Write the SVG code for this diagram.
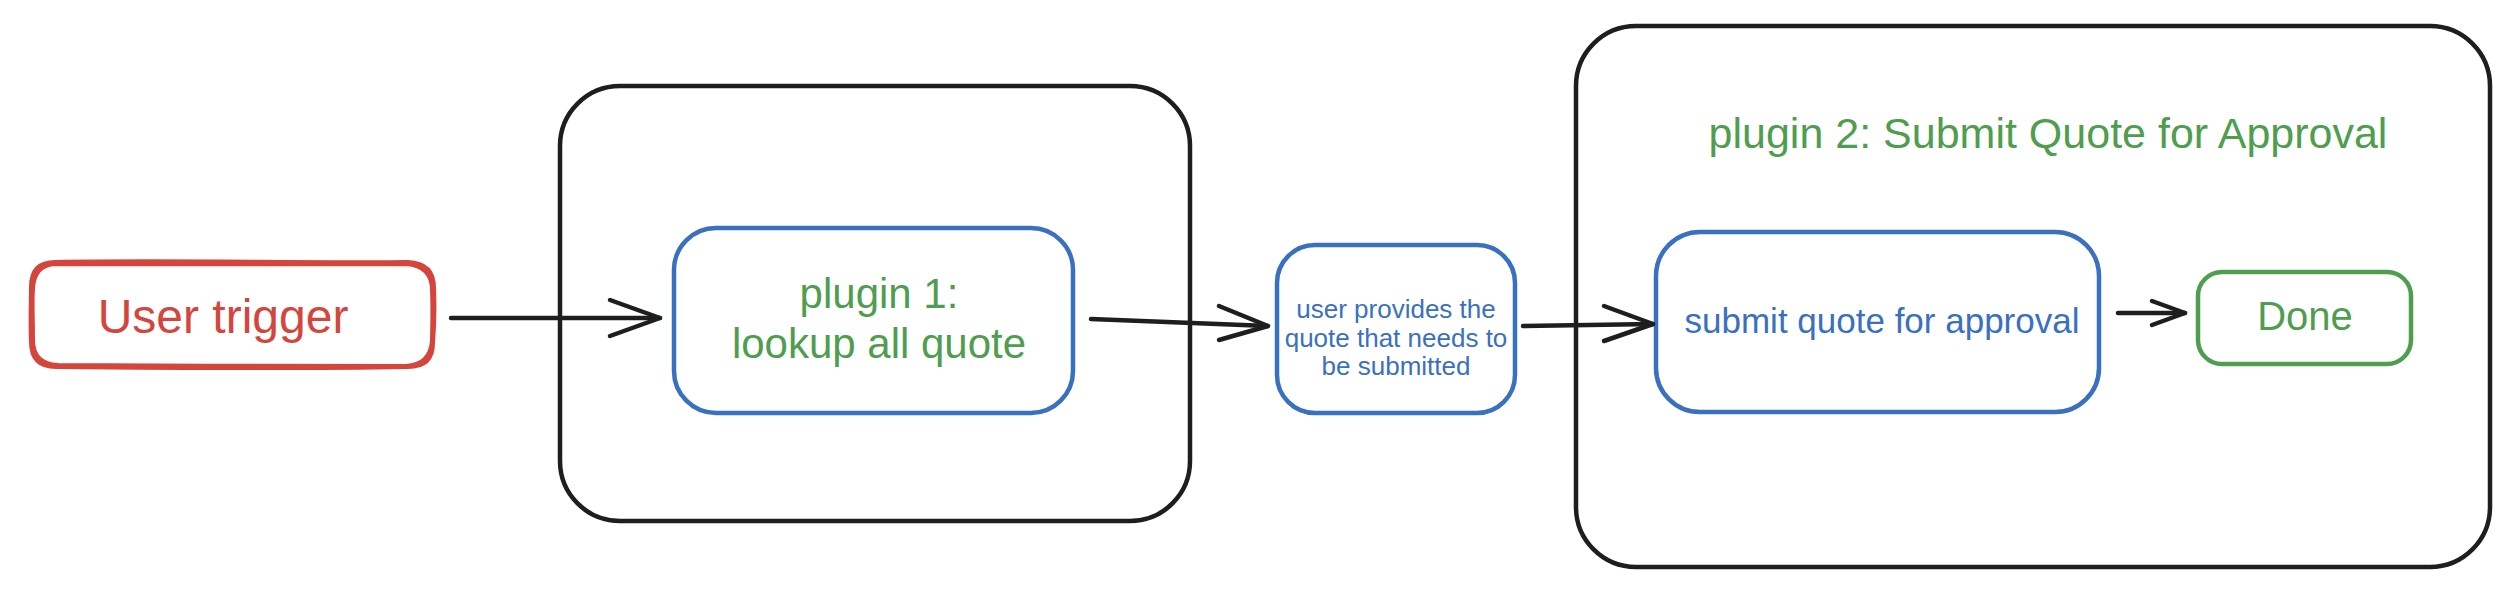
<svg xmlns="http://www.w3.org/2000/svg" width="2504" height="606" viewBox="0 0 2504 606">
  <style>
    .frame { fill: none; stroke: #1e1e1e; stroke-width: 4.5; }
    .blue { fill: none; stroke: #3a70c0; stroke-width: 4.5; }
    .green { fill: none; stroke: #4f9e4f; stroke-width: 4.5; }
    .red { fill: none; stroke: #d4463d; stroke-width: 4; stroke-linecap: round; stroke-linejoin: round; }
    .conn { fill: none; stroke: #1e1e1e; stroke-width: 4.5; stroke-linecap: round; stroke-linejoin: round; }
    text { font-family: "Liberation Sans", Arial, sans-serif; text-anchor: middle; }
    .tg { fill: #4f9e4f; }
    .tb { fill: #3a70c0; }
    .tr { fill: #d4463d; }
  </style>
  <rect width="2504" height="606" fill="#ffffff"/>

  <g id="plugin1-frame">
    <rect class="frame" x="560" y="86" width="630" height="435" rx="60" ry="60"/>
  </g>

  <g id="plugin2-frame">
    <rect class="frame" x="1576" y="26" width="914" height="541" rx="60" ry="60"/>
    <text class="tg" x="2048" y="148" font-size="43">plugin 2: Submit Quote for Approval</text>
  </g>

  <g id="user-trigger">
    <path class="red" d="M55 262 C160 260 300 263 408 262 Q434 263 434 288 C435 310 434 330 433 343 Q433 367 408 367 C300 369 160 368 56 367 Q31 367 31 342 C30 320 31 300 31 287 Q31 262 55 262 Z"/>
    <path class="red" d="M57 264 C170 263 290 265 406 264 Q432 266 432 290 C433 312 432 332 432 341 Q430 365 406 366 C300 366 170 366 58 365 Q33 364 33 340 C33 318 32 302 33 289 Q34 264 57 264 Z"/>
    <text class="tr" x="223" y="333" font-size="48">User trigger</text>
  </g>

  <g id="plugin1-lookup">
    <rect class="blue" x="674" y="228" width="399" height="185" rx="42" ry="42"/>
    <text class="tg" x="879" y="308" font-size="42">plugin 1:</text>
    <text class="tg" x="879" y="358" font-size="42">lookup all quote</text>
  </g>

  <g id="user-provides">
    <rect class="blue" x="1277" y="245" width="238" height="168" rx="38" ry="38"/>
    <text class="tb" x="1396" y="318" font-size="26">user provides the</text>
    <text class="tb" x="1396" y="347" font-size="26">quote that needs to</text>
    <text class="tb" x="1396" y="375" font-size="26">be submitted</text>
  </g>

  <g id="submit-quote">
    <rect class="blue" x="1656" y="232" width="443" height="180" rx="44" ry="44"/>
    <text class="tb" x="1882" y="333" font-size="35">submit quote for approval</text>
  </g>

  <g id="done">
    <rect class="green" x="2198" y="272" width="213" height="92" rx="24" ry="24"/>
    <text class="tg" x="2305" y="330" font-size="40">Done</text>
  </g>

  <g id="connectors">
    <path class="conn" d="M451 318 L660 318"/>
    <path class="conn" d="M610 300 L660 318 L610 336"/>
    <path class="conn" d="M1091 319 L1268 326"/>
    <path class="conn" d="M1219 306 L1268 326 L1219 340"/>
    <path class="conn" d="M1523 326 L1653 324"/>
    <path class="conn" d="M1604 306 L1653 324 L1604 341"/>
    <path class="conn" d="M2118 313 L2185 313"/>
    <path class="conn" d="M2152 301 L2185 313 L2152 325"/>
  </g>
</svg>
